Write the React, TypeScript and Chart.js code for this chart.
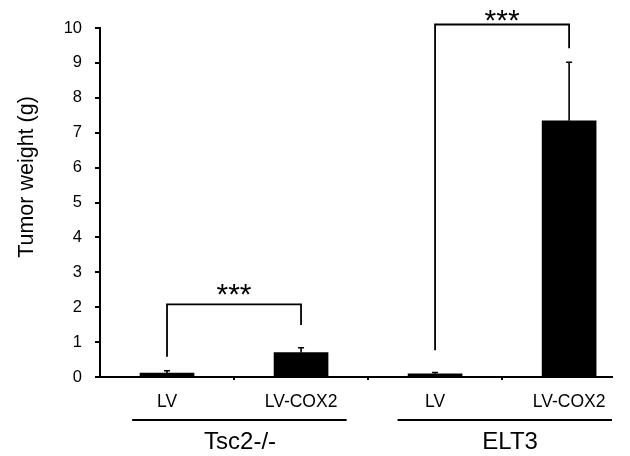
import React, { useEffect, useRef } from "react";
import { Chart, registerables } from "chart.js";

Chart.register(...registerables);

// ---- data ----
const categories = ["LV", "LV-COX2", "LV", "LV-COX2"];
const groups = ["Tsc2-/-", "ELT3"];
const groupCenters = [0.545, 2.56];
const groupLineStart = [-0.26, 1.72];
const groupLineEnd = [1.34, 3.32];
const means = [0.11, 0.7, 0.09, 7.34];
const errorTops = [0.18, 0.84, 0.13, 9.02];
const yTickValues = [0, 1, 2, 3, 4, 5, 6, 7, 8, 9, 10];
const bracketFrom = [0, 2];
const bracketTo = [1, 3];
const bracketLeftFoot = [0.58, 0.77];
const bracketTop = [2.08, 10.1];
const bracketRightFoot = [1.49, 9.42];
const bracketLabels = ["***", "***"];
const bracketLabelY = [2.51, 10.37];
const yTitle = "Tumor weight (g)";

const FONT = "'Liberation Sans', Arial, sans-serif";

const annotate = {
  id: "annotate",
  afterDatasetsDraw(chart: any) {
    const { ctx } = chart;
    const x = chart.scales.x;
    const y = chart.scales.y;
    ctx.save();
    ctx.strokeStyle = "#000";
    ctx.fillStyle = "#000";
    // error bars
    ctx.lineWidth = 1.6;
    means.forEach((m, i) => {
      const px = x.getPixelForValue(i);
      const y0 = y.getPixelForValue(m);
      const y1 = y.getPixelForValue(errorTops[i]);
      ctx.beginPath();
      ctx.moveTo(px, y0);
      ctx.lineTo(px, y1);
      ctx.moveTo(px - 3, y1);
      ctx.lineTo(px + 3, y1);
      ctx.stroke();
    });
    // brackets
    ctx.lineWidth = 1.8;
    bracketFrom.forEach((f, i) => {
      const xl = x.getPixelForValue(f);
      const xr = x.getPixelForValue(bracketTo[i]);
      const yt = y.getPixelForValue(bracketTop[i]);
      ctx.beginPath();
      ctx.moveTo(xl, y.getPixelForValue(bracketLeftFoot[i]));
      ctx.lineTo(xl, yt);
      ctx.lineTo(xr, yt);
      ctx.lineTo(xr, y.getPixelForValue(bracketRightFoot[i]));
      ctx.stroke();
      ctx.font = `30px ${FONT}`;
      ctx.textAlign = "center";
      ctx.textBaseline = "alphabetic";
      const mt = ctx.measureText(bracketLabels[i]);
      const asc = mt.actualBoundingBoxAscent;
      const desc = mt.actualBoundingBoxDescent;
      const cy = y.getPixelForValue(bracketLabelY[i]);
      ctx.fillText(bracketLabels[i], (xl + xr) / 2, cy + (asc - desc) / 2);
    });
    // group lines
    ctx.lineWidth = 2;
    groupLineStart.forEach((s, i) => {
      ctx.beginPath();
      ctx.moveTo(x.getPixelForValue(s), 420);
      ctx.lineTo(x.getPixelForValue(groupLineEnd[i]), 420);
      ctx.stroke();
    });
    // y title
    ctx.font = `21.5px ${FONT}`;
    ctx.textAlign = "center";
    ctx.textBaseline = "middle";
    ctx.translate(27, 177);
    ctx.rotate(-Math.PI / 2);
    ctx.fillText(yTitle, 0, 0);
    ctx.restore();
  },
};

export default function App() {
  const ref = useRef<HTMLCanvasElement>(null);
  useEffect(() => {
    const chart = new Chart(ref.current as HTMLCanvasElement, {
      type: "bar",
      data: {
        datasets: [
          {
            data: means.map((m, i) => ({ x: i, y: m })),
            backgroundColor: "#000",
            borderWidth: 0,
            barThickness: 54,
            xAxisID: "x",
            yAxisID: "y",
          },
        ],
      },
      options: {
        animation: false,
        responsive: false,
        devicePixelRatio: 1,
        layout: { padding: { top: 28, right: 18, left: 0, bottom: 0 } },
        plugins: { legend: { display: false }, tooltip: { enabled: false } },
        scales: {
          x: {
            type: "linear",
            position: "bottom",
            offset: false,
            weight: 0,
            min: -0.5,
            max: 3.32,
            afterBuildTicks: (s: any) => {
              s.ticks = [0, 0.5, 1, 1.5, 2, 2.5, 3].map((v) => ({ value: v }));
            },
            afterFit: (s: any) => {
              s.height = 40;
            },
            ticks: {
              autoSkip: false,
              maxRotation: 0,
              padding: 12,
              color: "#000",
              font: { family: FONT, size: 17.5 },
              callback: (v: any) => (Number.isInteger(v) ? categories[v] : ""),
            },
            grid: {
              offset: false,
              drawOnChartArea: false,
              tickLength: 3,
              lineWidth: 2,
              tickColor: (c: any) =>
                c.tick && Number.isInteger(c.tick.value) ? "rgba(0,0,0,0)" : "#000",
            },
            border: { color: "#000", width: 2 },
          },
          x2: {
            type: "linear",
            position: "bottom",
            offset: false,
            weight: 1,
            min: -0.5,
            max: 3.32,
            afterBuildTicks: (s: any) => {
              s.ticks = groupCenters.map((v) => ({ value: v }));
            },
            afterFit: (s: any) => {
              s.height = 39;
            },
            ticks: {
              autoSkip: false,
              maxRotation: 0,
              padding: 10.5,
              color: "#000",
              font: { family: FONT, size: 24 },
              callback: (_v: any, i: number) => groups[i],
            },
            grid: { display: false, drawTicks: false, offset: false },
            border: { display: false },
          },
          y: {
            position: "left",
            min: 0,
            max: 10,
            afterBuildTicks: (s: any) => {
              s.ticks = yTickValues.map((v) => ({ value: v }));
            },
            afterFit: (s: any) => {
              s.width = 100;
            },
            ticks: {
              padding: 13,
              color: "#000",
              font: { family: FONT, size: 16.5 },
            },
            grid: {
              drawOnChartArea: false,
              tickLength: 5,
              lineWidth: 2,
              tickColor: "#000",
            },
            border: { color: "#000", width: 2 },
          },
        },
      },
      plugins: [annotate],
    } as any);
    return () => chart.destroy();
  }, []);
  return (
    <div
      style={{
        position: "fixed",
        left: 0,
        top: 0,
        width: 630,
        height: 456,
        overflow: "hidden",
        background: "#fff",
      }}
    >
      <canvas ref={ref} width={630} height={456} />
    </div>
  );
}
